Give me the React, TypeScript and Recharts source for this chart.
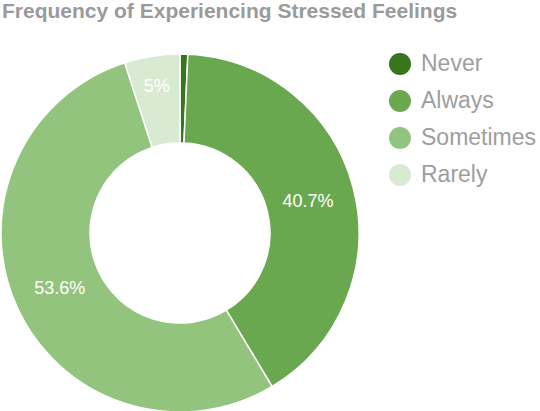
import React from 'react';
import { PieChart, Pie, Cell } from 'recharts';

const categories = ['Never', 'Always', 'Sometimes', 'Rarely'];
const values = [0.7, 40.7, 53.6, 5];
const colors = ['#38761d', '#6aa84f', '#93c47d', '#d9ead3'];

const data = categories.map((name, i) => ({ name, value: values[i] }));

const RADIAN = Math.PI / 180;

const renderLabel = (props: any) => {
  const { cx, cy, midAngle, percent } = props;
  if (percent < 0.02) return null;
  const r = percent < 0.1 ? 149 : 132;
  const x = cx + r * Math.cos(-midAngle * RADIAN);
  const y = cy + r * Math.sin(-midAngle * RADIAN);
  return (
    <text
      x={x}
      y={y}
      fill="#ffffff"
      textAnchor="middle"
      dominantBaseline="central"
      fontFamily="'Liberation Sans', Arial, sans-serif"
      fontSize={18}
    >
      {`${+(percent * 100).toFixed(1)}%`}
    </text>
  );
};

export default function App() {
  return (
    <div style={{ position: 'absolute', left: 0, top: 0, width: 540, height: 411, background: '#fff', overflow: 'hidden' }}>
      <div
        style={{
          position: 'absolute',
          left: 2,
          top: -1,
          fontFamily: "'Liberation Sans', Arial, sans-serif",
          fontWeight: 'bold',
          fontSize: 21,
          lineHeight: '24px',
          color: '#9a9a9a',
          whiteSpace: 'nowrap',
        }}
      >
        Frequency of Experiencing Stressed Feelings
      </div>
      <PieChart width={540} height={411} margin={{ top: 0, right: 0, bottom: 0, left: 0 }}>
        <Pie
          data={data}
          dataKey="value"
          nameKey="name"
          cx={180}
          cy={233}
          innerRadius={90}
          outerRadius={179}
          startAngle={90}
          endAngle={-270}
          stroke="#ffffff"
          strokeWidth={1.5}
          label={renderLabel}
          labelLine={false}
          isAnimationActive={false}
        >
          {data.map((d, i) => (
            <Cell key={d.name} fill={colors[i]} />
          ))}
        </Pie>
      </PieChart>
      <div style={{ position: 'absolute', left: 389, top: 45 }}>
        {categories.map((c, i) => (
          <div key={c} style={{ display: 'flex', alignItems: 'center', height: 37 }}>
            <div style={{ width: 22, height: 22, borderRadius: 11, background: colors[i], flexShrink: 0 }} />
            <span
              style={{
                marginLeft: 10,
                fontFamily: "'Liberation Sans', Arial, sans-serif",
                fontSize: 23,
                color: '#9e9e9e',
                whiteSpace: 'nowrap',
              }}
            >
              {c}
            </span>
          </div>
        ))}
      </div>
    </div>
  );
}
